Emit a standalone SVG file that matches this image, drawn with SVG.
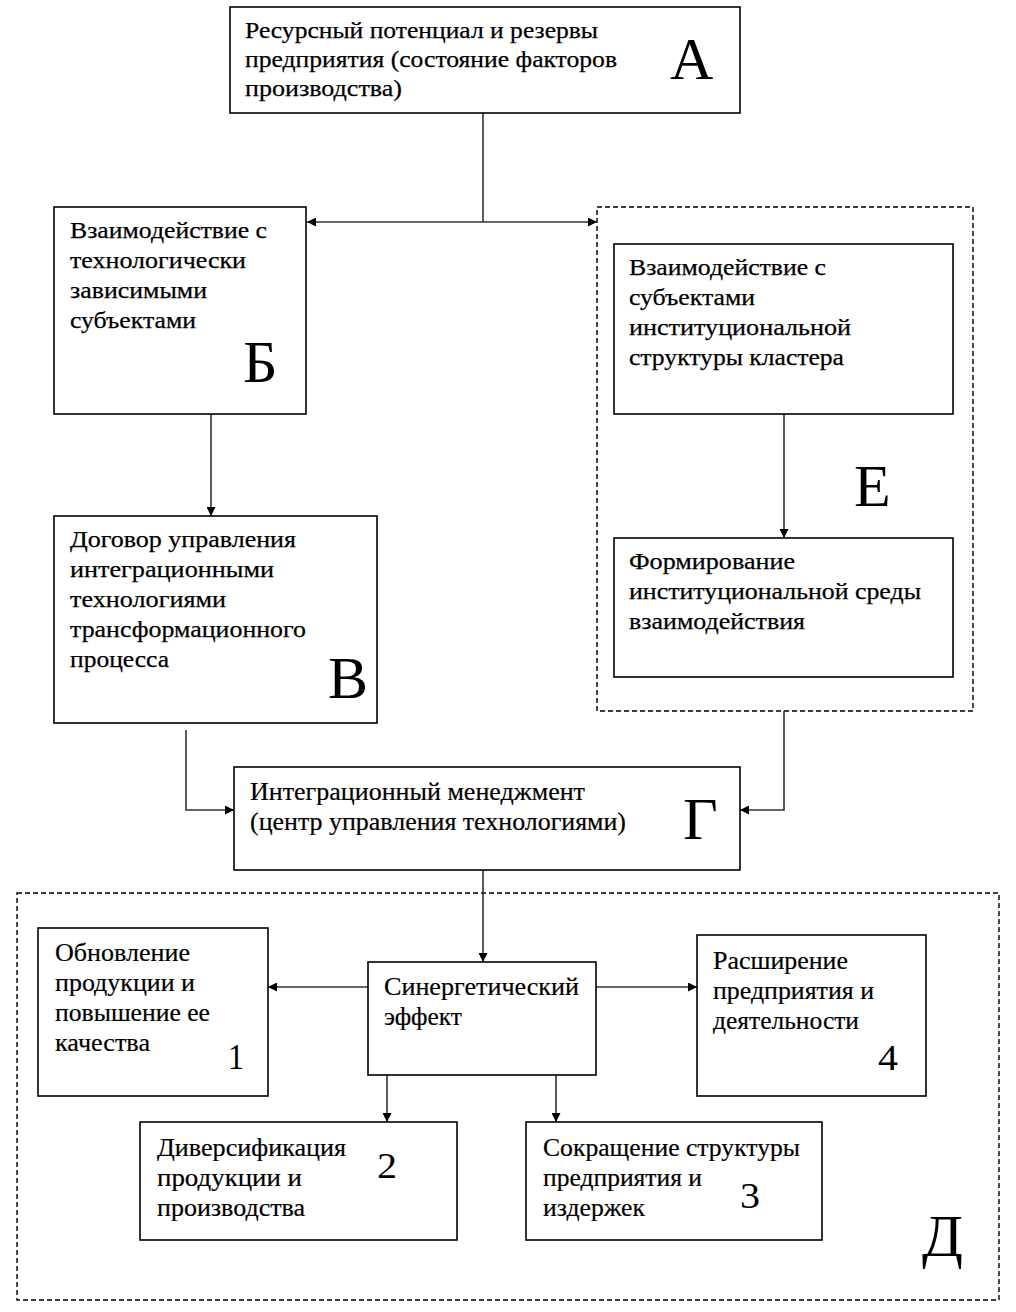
<svg xmlns="http://www.w3.org/2000/svg" width="1016" height="1312" viewBox="0 0 1016 1312">
<style>
.box{fill:#fff;stroke:#000;stroke-width:1.6}
.dash{fill:none;stroke:#000;stroke-width:1.4;stroke-dasharray:5,3}
.t{font-family:"Liberation Serif","Times New Roman",serif;font-size:23px;fill:#000;stroke:#000;stroke-width:0.25}
.tc{font-family:"Liberation Serif","Times New Roman",serif;font-size:25px;fill:#000;stroke:#000;stroke-width:0.2}
.big{font-family:"Liberation Serif","Times New Roman",serif;font-size:60px;fill:#000}
.num{font-family:"Liberation Serif","Times New Roman",serif;font-size:36px;fill:#000}
.c{fill:none;stroke:#333;stroke-width:1.6}
</style>
<defs>
<marker id="ah" viewBox="0 0 10 10" refX="10" refY="5" markerWidth="9" markerHeight="9" markerUnits="userSpaceOnUse" orient="auto">
<path d="M0,0 L10,5 L0,10 z" fill="#000"/>
</marker>
</defs>
<rect width="1016" height="1312" fill="#fff"/>
<g id="group-E">
<rect class="dash" x="597" y="207" width="376" height="504"/>
<text class="big" x="854" y="506">Е</text>
</g>
<g id="group-D">
<rect class="dash" x="17" y="893" width="982" height="407"/>
<text class="big" x="922" y="1256">Д</text>
</g>
<g id="connectors">
<path class="c" d="M483,113 V222"/>
<path class="c" d="M483,222 H307" marker-end="url(#ah)"/>
<path class="c" d="M483,222 H597" marker-end="url(#ah)"/>
<path class="c" d="M211,414 V516" marker-end="url(#ah)"/>
<path class="c" d="M784,414 V538" marker-end="url(#ah)"/>
<path class="c" d="M186,730 V810 H234" marker-end="url(#ah)"/>
<path class="c" d="M784,711 V810 H740" marker-end="url(#ah)"/>
<path class="c" d="M483,870 V962" marker-end="url(#ah)"/>
<path class="c" d="M368,987 H268" marker-end="url(#ah)"/>
<path class="c" d="M596,987 H697" marker-end="url(#ah)"/>
<path class="c" d="M387,1075 V1122" marker-end="url(#ah)"/>
<path class="c" d="M556,1075 V1122" marker-end="url(#ah)"/>
</g>
<g id="node-A">
<rect class="box" x="230" y="7" width="510" height="106"/>
<text class="t" x="245" y="38" textLength="353" lengthAdjust="spacingAndGlyphs">Ресурсный потенциал и резервы</text>
<text class="t" x="245" y="67" textLength="372" lengthAdjust="spacingAndGlyphs">предприятия (состояние факторов</text>
<text class="t" x="245" y="96" textLength="157" lengthAdjust="spacingAndGlyphs">производства)</text>
<text class="big" x="670" y="79">А</text>
</g>
<g id="node-B">
<rect class="box" x="54" y="207" width="252" height="207"/>
<text class="t" x="70" y="238" textLength="197" lengthAdjust="spacingAndGlyphs">Взаимодействие с</text>
<text class="t" x="70" y="268" textLength="176" lengthAdjust="spacingAndGlyphs">технологически</text>
<text class="t" x="70" y="298" textLength="137" lengthAdjust="spacingAndGlyphs">зависимыми</text>
<text class="t" x="70" y="328" textLength="126" lengthAdjust="spacingAndGlyphs">субъектами</text>
<text class="big" x="243" y="382">Б</text>
</g>
<g id="node-V">
<rect class="box" x="54" y="516" width="323" height="207"/>
<text class="t" x="70" y="547" textLength="226" lengthAdjust="spacingAndGlyphs">Договор управления</text>
<text class="t" x="70" y="577" textLength="204" lengthAdjust="spacingAndGlyphs">интеграционными</text>
<text class="t" x="70" y="607" textLength="156" lengthAdjust="spacingAndGlyphs">технологиями</text>
<text class="t" x="70" y="637" textLength="236" lengthAdjust="spacingAndGlyphs">трансформационного</text>
<text class="t" x="70" y="667" textLength="99" lengthAdjust="spacingAndGlyphs">процесса</text>
<text class="big" x="328" y="698">В</text>
</g>
<g id="node-E1">
<rect class="box" x="614" y="244" width="339" height="170"/>
<text class="t" x="629" y="275" textLength="197" lengthAdjust="spacingAndGlyphs">Взаимодействие с</text>
<text class="t" x="629" y="305" textLength="126" lengthAdjust="spacingAndGlyphs">субъектами</text>
<text class="t" x="629" y="335" textLength="222" lengthAdjust="spacingAndGlyphs">институциональной</text>
<text class="t" x="629" y="365" textLength="215" lengthAdjust="spacingAndGlyphs">структуры кластера</text>
</g>
<g id="node-E2">
<rect class="box" x="614" y="538" width="339" height="139"/>
<text class="t" x="629" y="569" textLength="166" lengthAdjust="spacingAndGlyphs">Формирование</text>
<text class="t" x="629" y="599" textLength="292" lengthAdjust="spacingAndGlyphs">институциональной среды</text>
<text class="t" x="629" y="629" textLength="176" lengthAdjust="spacingAndGlyphs">взаимодействия</text>
</g>
<g id="node-G">
<rect class="box" x="234" y="767" width="506" height="103"/>
<text class="tc" x="250" y="800" textLength="335" lengthAdjust="spacingAndGlyphs">Интеграционный менеджмент</text>
<text class="tc" x="250" y="830" textLength="376" lengthAdjust="spacingAndGlyphs">(центр управления технологиями)</text>
<text class="big" x="683" y="839">Г</text>
</g>
<g id="node-syn">
<rect class="box" x="368" y="962" width="228" height="113"/>
<text class="tc" x="384" y="995" textLength="195" lengthAdjust="spacingAndGlyphs">Синергетический</text>
<text class="tc" x="384" y="1025" textLength="78" lengthAdjust="spacingAndGlyphs">эффект</text>
</g>
<g id="node-1">
<rect class="box" x="38" y="928" width="230" height="168"/>
<text class="tc" x="55" y="961" textLength="135" lengthAdjust="spacingAndGlyphs">Обновление</text>
<text class="tc" x="55" y="991" textLength="140" lengthAdjust="spacingAndGlyphs">продукции и</text>
<text class="tc" x="55" y="1021" textLength="155" lengthAdjust="spacingAndGlyphs">повышение ее</text>
<text class="tc" x="55" y="1051" textLength="95" lengthAdjust="spacingAndGlyphs">качества</text>
<text class="num" x="228" y="1069" textLength="16" lengthAdjust="spacingAndGlyphs">1</text>
</g>
<g id="node-4">
<rect class="box" x="697" y="935" width="229" height="161"/>
<text class="tc" x="713" y="969" textLength="135" lengthAdjust="spacingAndGlyphs">Расширение</text>
<text class="tc" x="713" y="999" textLength="161" lengthAdjust="spacingAndGlyphs">предприятия и</text>
<text class="tc" x="713" y="1029" textLength="146" lengthAdjust="spacingAndGlyphs">деятельности</text>
<text class="num" x="878" y="1070" textLength="20" lengthAdjust="spacingAndGlyphs">4</text>
</g>
<g id="node-2">
<rect class="box" x="140" y="1122" width="317" height="118"/>
<text class="tc" x="157" y="1156" textLength="189" lengthAdjust="spacingAndGlyphs">Диверсификация</text>
<text class="tc" x="157" y="1186" textLength="145" lengthAdjust="spacingAndGlyphs">продукции и</text>
<text class="tc" x="157" y="1216" textLength="148" lengthAdjust="spacingAndGlyphs">производства</text>
<text class="num" x="377" y="1178" textLength="20" lengthAdjust="spacingAndGlyphs">2</text>
</g>
<g id="node-3">
<rect class="box" x="526" y="1122" width="296" height="118"/>
<text class="tc" x="543" y="1156" textLength="257" lengthAdjust="spacingAndGlyphs">Сокращение структуры</text>
<text class="tc" x="543" y="1186" textLength="159" lengthAdjust="spacingAndGlyphs">предприятия и</text>
<text class="tc" x="543" y="1216" textLength="102" lengthAdjust="spacingAndGlyphs">издержек</text>
<text class="num" x="740" y="1208" textLength="20" lengthAdjust="spacingAndGlyphs">3</text>
</g>
</svg>
